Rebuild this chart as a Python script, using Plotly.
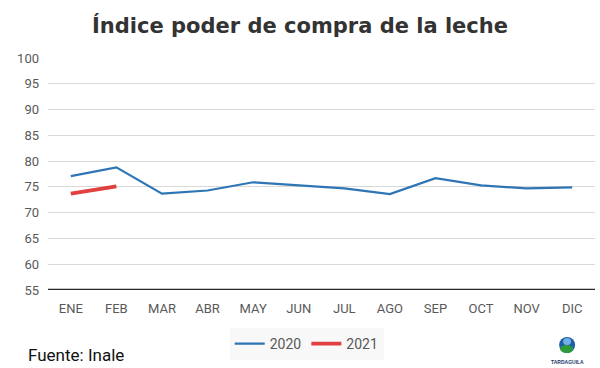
import plotly.graph_objects as go

months = ["ENE", "FEB", "MAR", "ABR", "MAY", "JUN", "JUL", "AGO", "SEP", "OCT", "NOV", "DIC"]
vals_2020 = [77.1, 78.8, 73.7, 74.3, 75.9, 75.3, 74.7, 73.6, 76.7, 75.3, 74.7, 74.9]
months_2021 = ["ENE", "FEB"]
vals_2021 = [73.7, 75.1]
y_ticks = [55, 60, 65, 70, 75, 80, 85, 90, 95, 100]

tick_font = dict(family="Liberation Sans Narrow, Roboto, Arial, sans-serif", size=13, color="#595959")

fig = go.Figure()
fig.add_trace(go.Scatter(x=months, y=vals_2020, mode="lines", name="2020",
                         line=dict(color="#2E75B6", width=2.2)))
fig.add_trace(go.Scatter(x=months_2021, y=vals_2021, mode="lines", name="2021",
                         line=dict(color="#E0403F", width=3.8)))

fig.update_layout(
    width=600, height=368,
    margin=dict(l=48, r=5, t=58, b=78),
    paper_bgcolor="white", plot_bgcolor="white",
    title=dict(text="<b>Índice poder de compra de la leche</b>", x=0.50, xanchor="center",
               y=0.93, yanchor="middle",
               font=dict(family="DejaVu Sans, Verdana, sans-serif", size=21, color="#333333")),
    showlegend=True,
    legend=dict(orientation="h", x=0.473, xanchor="center", y=-0.164, yanchor="top",
                bgcolor="#f8f8f8", font=dict(family="Liberation Sans Narrow, Roboto, Arial, sans-serif", size=14, color="#595959"),
                itemwidth=30, traceorder="normal"),
    xaxis=dict(type="category", categoryorder="array", categoryarray=months,
               range=[-0.5, 11.5], showgrid=False, showline=False, zeroline=False,
               ticks="", tickfont=tick_font, ticklabelstandoff=9, fixedrange=True),
    yaxis=dict(range=[55, 100], tickvals=y_ticks, showgrid=True, gridcolor="#d9d9d9",
               gridwidth=1, zeroline=False, showline=False, ticks="",
               tickfont=tick_font, ticklabelstandoff=8, fixedrange=True),
)

# dark baseline at 55
fig.add_shape(type="line", xref="paper", yref="y", x0=0, x1=1, y0=55, y1=55,
              line=dict(color="#262626", width=2.5))

fig.add_annotation(text="Fuente: Inale", xref="paper", yref="paper", x=-0.04, xanchor="left",
                   y=-0.28, yanchor="middle", showarrow=False,
                   font=dict(family="Liberation Sans Narrow, Roboto, Arial, sans-serif", size=17, color="#111111"))

# logo approximation
fig.add_shape(type="circle", xref="paper", yref="paper", xsizemode="pixel", ysizemode="pixel",
              xanchor=0.949, yanchor=-0.237, x0=-8, x1=8, y0=-8, y1=8,
              fillcolor="#1f5fa8", line=dict(width=0))
fig.add_shape(type="circle", xref="paper", yref="paper", xsizemode="pixel", ysizemode="pixel",
              xanchor=0.949, yanchor=-0.237, x0=-4, x1=4, y0=0, y1=7,
              fillcolor="#6fb0e8", line=dict(width=0))
fig.add_shape(type="circle", xref="paper", yref="paper", xsizemode="pixel", ysizemode="pixel",
              xanchor=0.949, yanchor=-0.237, x0=-7, x1=6, y0=-8, y1=0,
              fillcolor="#2e9a3a", line=dict(width=0))
fig.add_annotation(text="<b>TARDAGUILA</b>", xref="paper", yref="paper", x=0.949, xanchor="center",
                   y=-0.31, yanchor="middle", showarrow=False,
                   font=dict(family="Arial, sans-serif", size=5, color="#1a3a6a"))

fig.write_html("out.html", config={"displayModeBar": False},
               post_script="document.body.style.margin='0px';")
